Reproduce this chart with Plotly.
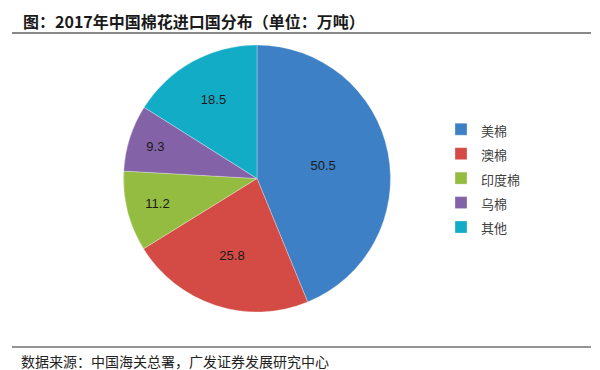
import plotly.graph_objects as go

categories = ["美棉", "澳棉", "印度棉", "乌棉", "其他"]
values = [50.5, 25.8, 11.2, 9.3, 18.5]
colors = ["#3D80C5", "#D44B45", "#93BC41", "#8462A8", "#13ACC6"]
title_text = "图：2017年中国棉花进口国分布（单位：万吨）"
source_text = "数据来源：中国海关总署，广发证券发展研究中心"

W, H = 600, 370

def px(x):
    return x / W

def py(y):
    return 1 - y / H

legend_labels = ["<span style='font-size:13px'>%s</span>" % c for c in categories]

fig = go.Figure(go.Pie(
    labels=legend_labels,
    values=values,
    sort=False,
    direction="clockwise",
    rotation=0,
    marker=dict(colors=colors, line=dict(color="rgba(255,255,255,0.6)", width=0.5)),
    textinfo="value",
    texttemplate="%{value}",
    textposition="inside",
    insidetextorientation="horizontal",
    textfont=dict(family="Liberation Sans, Arial", size=13, color="#1a1a1a"),
    domain=dict(x=[px(115), px(383)], y=[py(304), py(37)]),
    hoverinfo="skip",
))

fig.update_layout(
    width=W, height=H,
    margin=dict(l=0, r=0, t=0, b=0),
    paper_bgcolor="white",
    plot_bgcolor="white",
    showlegend=True,
    legend=dict(
        x=px(433), y=py(104), xanchor="left", yanchor="top",
        font=dict(family="Noto Sans CJK SC", size=16.5, color="#404040"),
        bgcolor="rgba(0,0,0,0)",
        itemwidth=30,
    ),
    shapes=[
        dict(type="line", xref="paper", yref="paper", x0=px(4), x1=px(583), y0=py(25), y1=py(25),
             line=dict(color="#606060", width=1.5)),
        dict(type="line", xref="paper", yref="paper", x0=px(4), x1=px(583), y0=py(339), y1=py(339),
             line=dict(color="#707070", width=1.5)),
    ],
    annotations=[
        dict(text="<b>" + title_text + "</b>", xref="paper", yref="paper", x=px(13), y=py(13),
             xanchor="left", yanchor="middle", showarrow=False,
             font=dict(family="Noto Sans CJK SC", size=16, color="#1a1a1a")),
        dict(text=source_text, xref="paper", yref="paper", x=px(11), y=py(353),
             xanchor="left", yanchor="middle", showarrow=False,
             font=dict(family="Noto Sans CJK SC", size=14, color="#222222")),
    ],
)

fig.write_html("out.html")
